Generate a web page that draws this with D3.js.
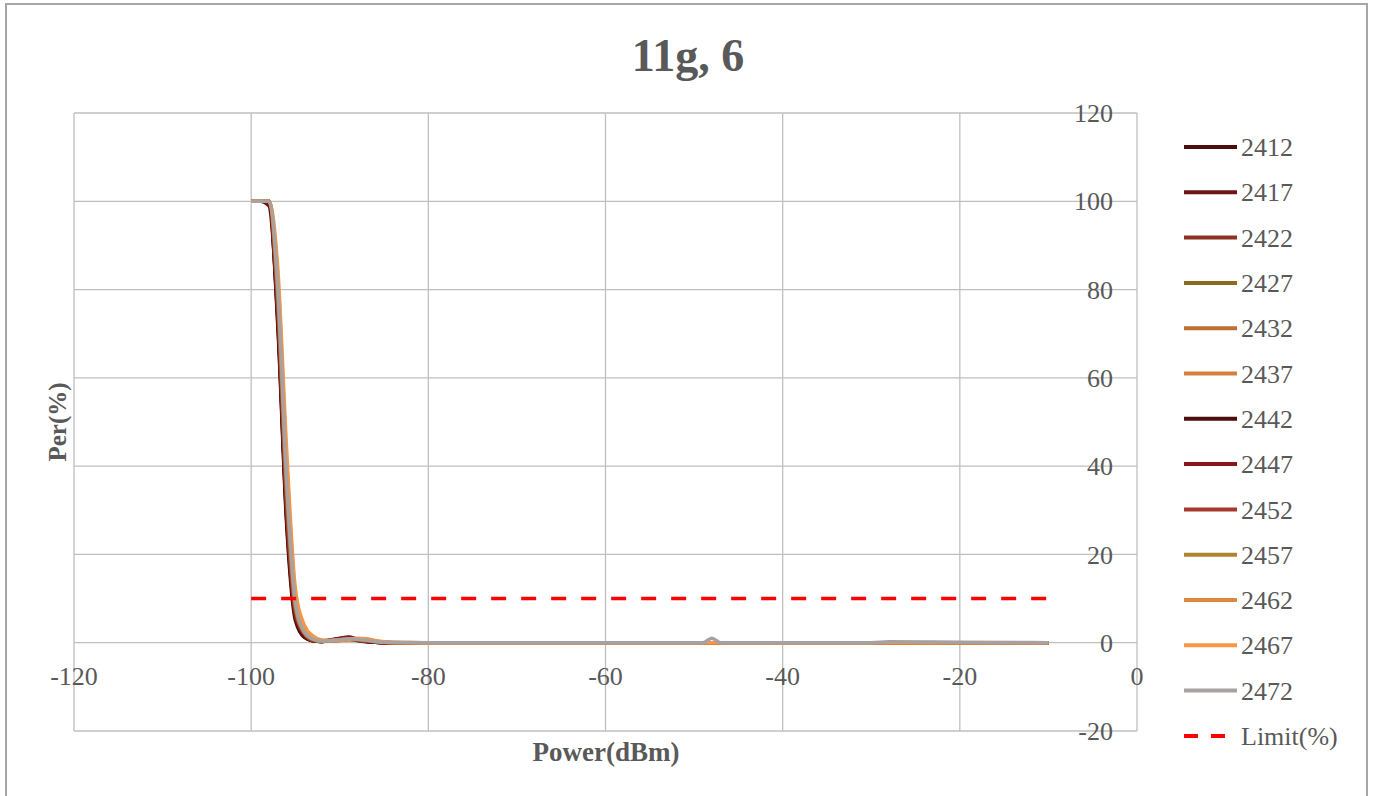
<!DOCTYPE html>
<html lang="en">
<head>
	<meta charset="utf-8">
	<script src="https://d3js.org/d3.v7.min.js"></script>
	<style type="text/css">
		body {
			margin: 0;
			background: #fff;
		}
		text {
			font-family: "Liberation Serif", "Times New Roman", serif;
			fill: #595959;
		}
	</style>
</head>
<body>
	<script type="text/javascript">

	var title = "11g, 6";

	// sweep points (dBm)
	var power = [-100, -99, -98, -97, -96, -95, -94, -93, -92, -91, -90, -89, -88, -87, -86, -85, -84,
	             -80, -70, -60, -50, -49, -48, -47, -40, -30, -28, -20, -10];

	// PER (%) per channel
	var per2412 = [100, 100, 100, 72, 27, 5, 1.2, 0.4, 0.3, 0.6, 0.8, 1.0, 0.5, 0.2, 0.1, 0, 0, 0, 0, 0, 0, 0, 0, 0, 0, 0, 0, 0, 0];
	var per2417 = [100, 100, 99, 74, 29, 6, 1.5, 0.5, 0.3, 0.6, 0.9, 1.1, 0.6, 0.3, 0.1, 0, 0, 0, 0, 0, 0, 0, 0, 0, 0, 0, 0, 0, 0];
	var per2422 = [100, 100, 100, 76, 32, 7, 1.6, 0.5, 0.3, 0.5, 0.7, 0.8, 0.5, 0.4, 0.2, 0, 0, 0, 0, 0, 0, 0, 0, 0, 0, 0, 0, 0, 0];
	var per2427 = [100, 100, 100, 78, 34, 8, 2.0, 0.6, 0.3, 0.4, 0.6, 0.7, 0.6, 0.5, 0.2, 0.1, 0, 0, 0, 0, 0, 0, 0, 0, 0, 0, 0, 0, 0];
	var per2432 = [100, 100, 100, 80, 37, 9, 2.5, 0.8, 0.3, 0.4, 0.5, 0.7, 0.8, 0.6, 0.3, 0.1, 0, 0, 0, 0, 0, 0, 0, 0, 0, 0, 0, 0, 0];
	var per2437 = [100, 100, 100, 82, 39, 10, 3.0, 1.0, 0.4, 0.4, 0.6, 0.8, 0.9, 0.7, 0.3, 0.1, 0, 0, 0, 0, 0, 0, 0, 0, 0, 0, 0, 0, 0];
	var per2442 = [100, 100, 100, 73, 28, 6, 1.5, 0.4, 0.3, 0.6, 0.9, 1.2, 0.7, 0.3, 0.1, 0, 0, 0, 0, 0, 0, 0, 0, 0, 0, 0, 0, 0, 0];
	var per2447 = [100, 100, 100, 75, 30, 6, 1.8, 0.5, 0.4, 0.7, 1.0, 1.3, 0.8, 0.4, 0.1, 0, 0, 0, 0, 0, 0, 0, 0, 0, 0, 0, 0, 0, 0];
	var per2452 = [100, 100, 100, 76, 31, 7, 2.0, 0.5, 0.3, 0.5, 0.7, 0.9, 0.6, 0.4, 0.2, 0, 0, 0, 0, 0, 0, 0, 0, 0, 0, 0, 0, 0, 0];
	var per2457 = [100, 100, 100, 79, 35, 8, 2.2, 0.7, 0.3, 0.4, 0.6, 0.7, 0.7, 0.5, 0.3, 0.1, 0, 0, 0, 0, 0, 0, 0, 0, 0, 0, 0, 0, 0];
	var per2462 = [100, 100, 100, 83, 41, 11, 3.5, 1.2, 0.5, 0.4, 0.5, 0.7, 0.9, 0.8, 0.4, 0.1, 0, 0, 0, 0, 0, 0, 0, 0, 0, 0, 0, 0, 0];
	var per2467 = [100, 100, 100, 85, 44, 12, 4.0, 1.5, 0.6, 0.5, 0.6, 0.8, 1.0, 0.9, 0.5, 0.2, 0.1, 0, 0, 0, 0, 0, 0, 0, 0, 0, 0, 0, 0];
	var per2472 = [100, 100, 100, 81, 37, 9, 2.5, 0.8, 0.4, 0.5, 0.7, 0.9, 0.8, 0.6, 0.3, 0.1, 0.1, 0, 0, 0, 0, 0, 1.0, 0, 0, 0, 0.2, 0.1, 0];
	var limit = [10, 10, 10, 10, 10, 10, 10, 10, 10, 10, 10, 10, 10, 10, 10, 10, 10, 10, 10, 10, 10, 10, 10, 10, 10, 10, 10, 10, 10];

	var channels = ["2412", "2417", "2422", "2427", "2432", "2437", "2442", "2447", "2452", "2457", "2462", "2467", "2472"];
	var colors = ["#4c0d0d", "#6e1414", "#8e3024", "#8c6a1e", "#bf6f34", "#d4803e",
	              "#4c0d0d", "#861818", "#a5392d", "#ad8430", "#da8744", "#f79646", "#a8a1a1"];

	var xTicks = [-120, -100, -80, -60, -40, -20, 0];
	var yTicks = [-20, 0, 20, 40, 60, 80, 100, 120];

	var series = [per2412, per2417, per2422, per2427, per2432, per2437, per2442,
	              per2447, per2452, per2457, per2462, per2467, per2472].map(function(vals, i) {
		return {
			name: channels[i],
			color: colors[i],
			points: vals.map(function(v, j) { return [power[j], v]; })
		};
	});

	var width = 1377;
	var height = 796;

	var svg = d3.select("body").append("svg")
		.attr("width", width)
		.attr("height", height);

	// outer chart frame
	svg.append("rect")
		.attr("x", 6).attr("y", 4)
		.attr("width", 1361).attr("height", 820)
		.style("fill", "none")
		.style("stroke", "#a6a6a6")
		.style("stroke-width", 2);

	var x = d3.scaleLinear().domain([-120, 0]).range([74, 1137]);
	var y = d3.scaleLinear().domain([-20, 120]).range([731, 113]);

	// gridlines
	svg.append("g").selectAll("line")
		.data(xTicks).enter().append("line")
		.attr("x1", function(d) { return x(d); })
		.attr("x2", function(d) { return x(d); })
		.attr("y1", y(120)).attr("y2", y(-20))
		.style("stroke", "#bfbfbf").style("stroke-width", 1.3);

	svg.append("g").selectAll("line")
		.data(yTicks).enter().append("line")
		.attr("x1", x(-120)).attr("x2", x(0))
		.attr("y1", function(d) { return y(d); })
		.attr("y2", function(d) { return y(d); })
		.style("stroke", "#bfbfbf").style("stroke-width", 1.3);

	// tick labels
	svg.append("g").selectAll("text")
		.data(xTicks).enter().append("text")
		.attr("x", function(d) { return x(d); })
		.attr("y", y(0) + 33)
		.attr("dy", ".35em")
		.attr("text-anchor", "middle")
		.style("font-size", "26px")
		.text(function(d) { return d; });

	svg.append("g").selectAll("text")
		.data(yTicks).enter().append("text")
		.attr("x", x(0) - 24)
		.attr("y", function(d) { return y(d); })
		.attr("dy", ".35em")
		.attr("text-anchor", "end")
		.style("font-size", "26px")
		.text(function(d) { return d; });

	// data lines
	var line = d3.line()
		.x(function(d) { return x(d[0]); })
		.y(function(d) { return y(d[1]); })
		.curve(d3.curveMonotoneX);

	svg.append("g").selectAll("path")
		.data(series).enter().append("path")
		.attr("d", function(d) { return line(d.points); })
		.style("fill", "none")
		.style("stroke", function(d) { return d.color; })
		.style("stroke-width", 3.5)
		.style("stroke-linejoin", "round");

	svg.append("path")
		.attr("d", line(limit.map(function(v, j) { return [power[j], v]; })))
		.style("fill", "none")
		.style("stroke", "#ff0000")
		.style("stroke-width", 3.5)
		.style("stroke-dasharray", "15,15");

	// titles
	svg.append("text")
		.attr("x", 688).attr("y", 55)
		.attr("dy", ".35em")
		.attr("text-anchor", "middle")
		.style("font-size", "46px")
		.style("font-weight", "bold")
		.text(title);

	svg.append("text")
		.attr("x", 606).attr("y", 752)
		.attr("dy", ".35em")
		.attr("text-anchor", "middle")
		.style("font-size", "27px")
		.style("font-weight", "bold")
		.text("Power(dBm)");

	svg.append("text")
		.attr("transform", "translate(57,422) rotate(-90)")
		.attr("dy", ".35em")
		.attr("text-anchor", "middle")
		.style("font-size", "25px")
		.style("font-weight", "bold")
		.text("Per(%)");

	// legend
	var legendItems = series.map(function(s) { return { name: s.name, color: s.color, dash: null }; });
	legendItems.push({ name: "Limit(%)", color: "#ff0000", dash: "14,13" });

	var legend = svg.append("g").selectAll("g")
		.data(legendItems).enter().append("g")
		.attr("transform", function(d, i) { return "translate(1184," + (147 + i * 45.3) + ")"; });

	legend.append("line")
		.attr("x1", 0).attr("x2", 53)
		.style("stroke", function(d) { return d.color; })
		.style("stroke-width", 4)
		.style("stroke-dasharray", function(d) { return d.dash; });

	legend.append("text")
		.attr("x", 57)
		.attr("dy", ".35em")
		.style("font-size", "26px")
		.text(function(d) { return d.name; });

	</script>
</body>
</html>
